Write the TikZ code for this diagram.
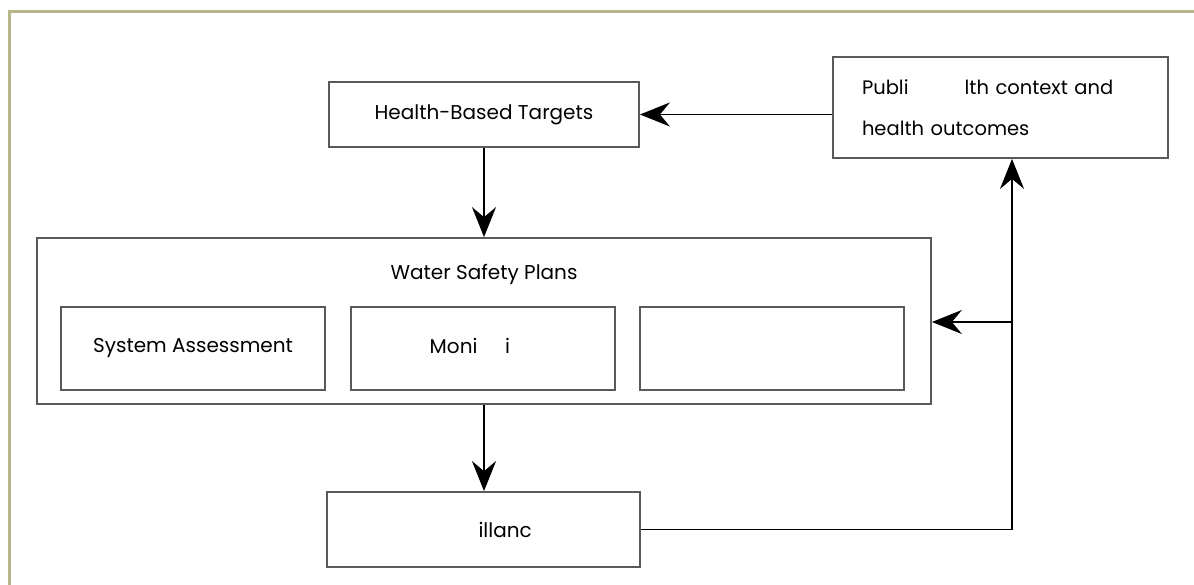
\documentclass[tikz,border=0pt]{standalone}
\usepackage{fontspec}
\setmainfont{Poppins}
\usetikzlibrary{positioning, arrows.meta}
\definecolor{frameolive}{HTML}{B9B68C}
\definecolor{boxgray}{HTML}{5A5A5A}

\begin{document}
\begin{tikzpicture}[
  x=1pt, y=-1pt,
  every node/.style={font=\fontsize{20}{23}\selectfont},
  box/.style={draw=boxgray, line width=1.8pt, inner sep=0pt},
  arr/.style={draw=black, line width=1.3pt, -{Stealth[length=30pt, width=24pt, inset=10pt]}}
]
% page and frame
\fill[white] (0,0) rectangle (1194,585);
\useasboundingbox (0,0) rectangle (1194,585);
\draw[frameolive, line width=3pt] (9.5,585) -- (9.5,11.5) -- (1194,11.5);

% boxes
\node[box, minimum width=310, minimum height=65] (hbt) at (484,114.5) {Health-Based Targets};
\node[box, minimum width=335, minimum height=101, text width=277, align=left,
      inner xsep=29pt, font=\fontsize{19.5}{41}\selectfont] (pub) at (1000.5,107.5)
      {Publi\phantom{c hea}lth context and\\health outcomes};
\node[box, minimum width=894, minimum height=166] (wsp) at (484,321) {};
\node (wsptitle) at (484,274) {Water Safety Plans};
\node[box, minimum width=264, minimum height=83] (sysa) at (193,348.5) {System Assessment};
\node[box, minimum width=264, minimum height=83] (moni) at (483,348.5) {Moni\phantom{tor}i\phantom{ng}};
\node[box, minimum width=264, minimum height=83] (mgmt) at (772,348.5) {};
\node[box, minimum width=313, minimum height=75] (surv) at (483.5,529.5) {\phantom{Surve}illanc\phantom{e}};

% arrows
\coordinate (turn) at (1012,529.5);
\coordinate (split) at (1012,322);
\draw[arr] (hbt.east -| pub.west) -- (hbt.east);
\draw[arr] (hbt.south) -- (wsp.north);
\draw[arr] (wsp.south) -- (wsp.south |- surv.north);
\draw[arr] (surv.east) -- (turn) -- (turn |- pub.south);
\draw[arr] (split) -- (split -| wsp.east);
\end{tikzpicture}
\end{document}
